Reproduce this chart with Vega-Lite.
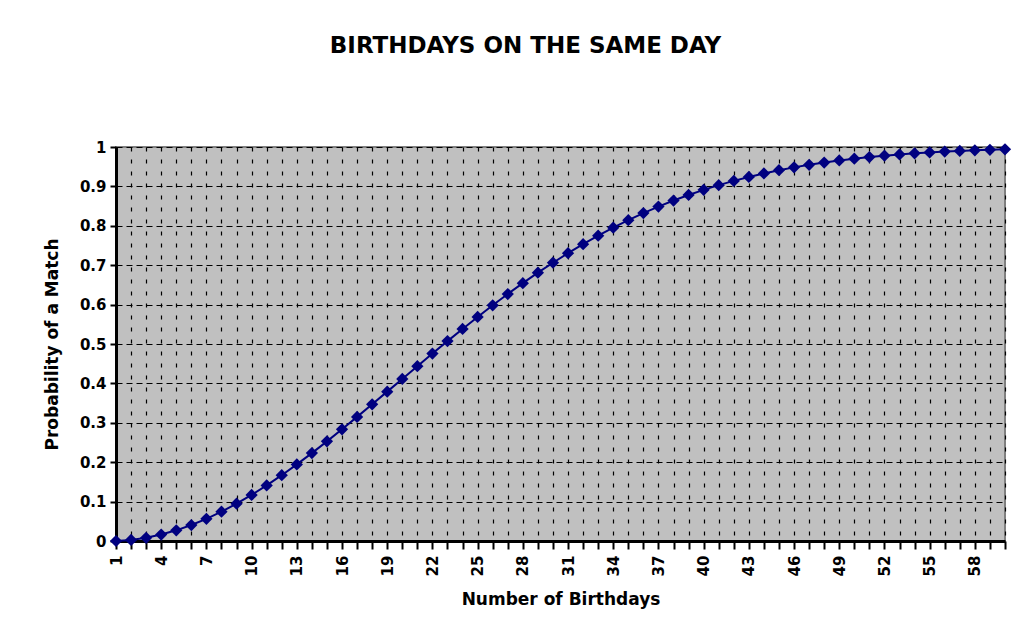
{
  "$schema": "https://vega.github.io/schema/vega-lite/v6.json",
  "autosize": "none",
  "padding": {"left": 116, "top": 147, "right": 26, "bottom": 98},
  "width": 889,
  "height": 394,
  "background": "white",
  "title": {
    "text": "BIRTHDAYS ON THE SAME DAY",
    "font": "DejaVu Sans",
    "fontSize": 23,
    "fontWeight": "bold",
    "color": "black",
    "anchor": "middle",
    "dx": -35,
    "offset": 82
  },
  "config": {
    "view": {"fill": "#c0c0c0", "stroke": "#808080", "strokeWidth": 2},
    "axis": {
      "labelFont": "DejaVu Sans",
      "labelFontWeight": "bold",
      "labelFontSize": 15,
      "labelColor": "black",
      "titleFont": "DejaVu Sans",
      "titleFontWeight": "bold",
      "titleFontSize": 17,
      "titleColor": "black",
      "domainColor": "black",
      "domainWidth": 3,
      "tickColor": "black",
      "tickWidth": 2,
      "gridColor": "black",
      "gridWidth": 1.2,
      "gridOpacity": 1
    }
  },
  "data": {
    "values": [
      {"n": 1, "p": 0.0},
      {"n": 2, "p": 0.0027},
      {"n": 3, "p": 0.0082},
      {"n": 4, "p": 0.0164},
      {"n": 5, "p": 0.0271},
      {"n": 6, "p": 0.0405},
      {"n": 7, "p": 0.0562},
      {"n": 8, "p": 0.0743},
      {"n": 9, "p": 0.0946},
      {"n": 10, "p": 0.1169},
      {"n": 11, "p": 0.1411},
      {"n": 12, "p": 0.1670},
      {"n": 13, "p": 0.1944},
      {"n": 14, "p": 0.2231},
      {"n": 15, "p": 0.2529},
      {"n": 16, "p": 0.2836},
      {"n": 17, "p": 0.3150},
      {"n": 18, "p": 0.3469},
      {"n": 19, "p": 0.3791},
      {"n": 20, "p": 0.4114},
      {"n": 21, "p": 0.4437},
      {"n": 22, "p": 0.4757},
      {"n": 23, "p": 0.5073},
      {"n": 24, "p": 0.5383},
      {"n": 25, "p": 0.5687},
      {"n": 26, "p": 0.5982},
      {"n": 27, "p": 0.6269},
      {"n": 28, "p": 0.6545},
      {"n": 29, "p": 0.6810},
      {"n": 30, "p": 0.7063},
      {"n": 31, "p": 0.7305},
      {"n": 32, "p": 0.7533},
      {"n": 33, "p": 0.7750},
      {"n": 34, "p": 0.7953},
      {"n": 35, "p": 0.8144},
      {"n": 36, "p": 0.8322},
      {"n": 37, "p": 0.8487},
      {"n": 38, "p": 0.8641},
      {"n": 39, "p": 0.8782},
      {"n": 40, "p": 0.8912},
      {"n": 41, "p": 0.9032},
      {"n": 42, "p": 0.9140},
      {"n": 43, "p": 0.9239},
      {"n": 44, "p": 0.9329},
      {"n": 45, "p": 0.9410},
      {"n": 46, "p": 0.9483},
      {"n": 47, "p": 0.9548},
      {"n": 48, "p": 0.9606},
      {"n": 49, "p": 0.9658},
      {"n": 50, "p": 0.9704},
      {"n": 51, "p": 0.9744},
      {"n": 52, "p": 0.9780},
      {"n": 53, "p": 0.9811},
      {"n": 54, "p": 0.9839},
      {"n": 55, "p": 0.9863},
      {"n": 56, "p": 0.9883},
      {"n": 57, "p": 0.9901},
      {"n": 58, "p": 0.9917},
      {"n": 59, "p": 0.9930},
      {"n": 60, "p": 0.9941}
    ]
  },
  "encoding": {
    "x": {
      "field": "n",
      "type": "ordinal",
      "sort": "ascending",
      "scale": {"type": "point", "padding": 0},
      "axis": {
        "title": "Number of Birthdays",
        "titlePadding": 16,
        "labelAngle": -90,
        "labelAlign": "right",
        "labelBaseline": "middle",
        "labelExpr": "(datum.value - 1) % 3 == 0 ? datum.label : ''",
        "labelPadding": 6,
        "tickSize": 8,
        "grid": true,
        "gridDash": [4, 8]
      }
    },
    "y": {
      "field": "p",
      "type": "quantitative",
      "scale": {"domain": [0, 1], "nice": false},
      "axis": {
        "title": "Probability of a Match",
        "titlePadding": 18,
        "values": [0, 0.1, 0.2, 0.3, 0.4, 0.5, 0.6, 0.7, 0.8, 0.9, 1],
        "format": ".1~f",
        "tickSize": 6,
        "labelPadding": 4,
        "grid": true,
        "gridDash": [6, 4]
      }
    }
  },
  "layer": [
    {"mark": {"type": "line", "color": "#000080", "strokeWidth": 2}},
    {"mark": {"type": "point", "shape": "diamond", "filled": true, "color": "#000080", "opacity": 1, "size": 150}}
  ]
}
